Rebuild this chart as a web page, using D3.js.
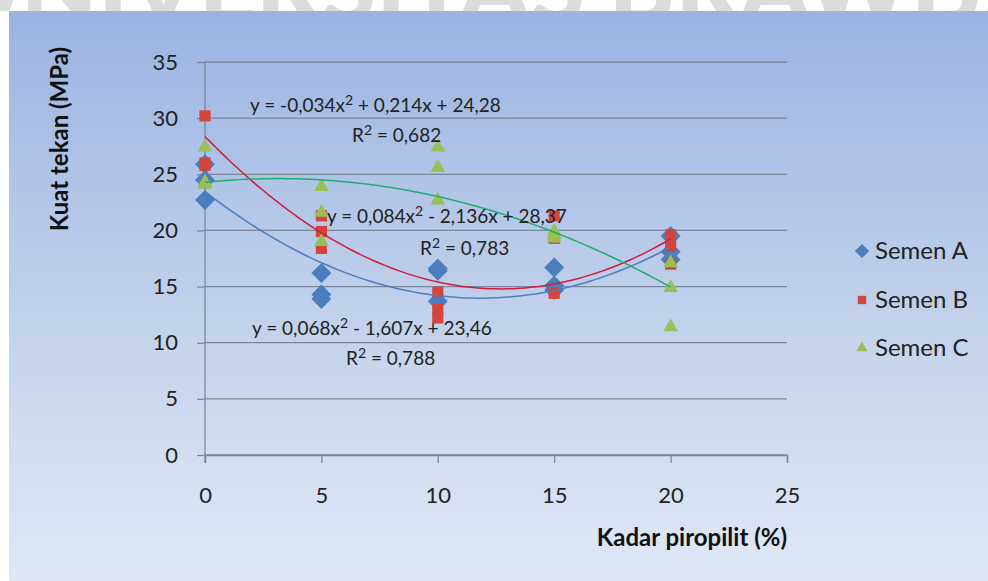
<!DOCTYPE html>
<html>
<head>
<meta charset="utf-8">
<title>Kuat tekan vs kadar piropilit</title>
<script src="https://d3js.org/d3.v7.min.js" charset="utf-8"></script>
<style>
  body { margin: 0; background: #fff; }
  svg { display: block; }
  .tick-label { font-family: Lato, "Open Sans", sans-serif; font-size: 22px; fill: #222; }
  .axis-title { font-family: Lato, "Open Sans", sans-serif; font-size: 24px; font-weight: bold; fill: #111; }
  .eq { font-family: Lato, "Open Sans", sans-serif; font-size: 19px; fill: #222; }
  .legend-text { font-family: Lato, "Open Sans", sans-serif; font-size: 24px; fill: #222; }
</style>
</head>
<body>
<div id="chart"></div>
<script>
// data
var kadar = [0, 5, 10, 15, 20];
var xTicks = [0, 5, 10, 15, 20, 25];
var yTicks = [0, 5, 10, 15, 20, 25, 30, 35];
var seriesNames = ["Semen A", "Semen B", "Semen C"];

// three test results for each kadar value
var semenA = [[25.9, 24.5, 22.7], [16.2, 14.3, 13.9], [16.6, 16.4, 13.7], [16.7, 15.1, 14.7], [19.5, 18.1, 17.4]];
var semenB = [[30.2, 26.0, 25.8], [21.3, 19.9, 18.4], [14.5, 13.0, 12.2], [21.3, 19.3, 14.4], [19.6, 18.6, 17.0]];
var semenC = [[27.4, 24.1, 24.3], [23.9, 21.6, 19.0], [27.4, 25.6, 22.7], [19.6, 19.3, 19.9], [17.1, 14.9, 11.4]];

// polynomial trendlines: a x^2 + b x + c
var trendA = [0.068, -1.607, 23.46];
var trendB = [0.084, -2.136, 28.37];
var trendC = [-0.034, 0.214, 24.28];
// equation text split around the superscript 2
var eqText = [["y = 0,068x", " - 1,607x + 23,46"], ["y = 0,084x", " - 2,136x + 28,37"], ["y = -0,034x", " + 0,214x + 24,28"]];
var r2Text = [["R", " = 0,788"], ["R", " = 0,783"], ["R", " = 0,682"]];

var W = 988, H = 581;
var svg = d3.select('#chart').append('svg').attr('width', W).attr('height', H);
var defs = svg.append('defs');

// watermark behind the chart, only its lower edge shows in the top strip
defs.append('clipPath').attr('id', 'topStrip').append('rect').attr('x', 0).attr('y', 0).attr('width', W).attr('height', 11);
svg.append('g').attr('clip-path', 'url(#topStrip)')
  .append('text').attr('x', 560).attr('y', 22).attr('text-anchor', 'middle')
  .style('font-family', 'Lato, sans-serif').style('font-weight', 900).style('font-size', '100px')
  .style('fill', '#dcdcdc').text("UNIVERSITAS BRAWIJAYA");

var grad = defs.append('linearGradient').attr('id', 'bg').attr('x1', 0).attr('y1', 0).attr('x2', 0).attr('y2', 1);
grad.append('stop').attr('offset', '0%').attr('stop-color', '#9ab4e2');
grad.append('stop').attr('offset', '55%').attr('stop-color', '#c3d2ec');
grad.append('stop').attr('offset', '100%').attr('stop-color', '#e0e8f5');

svg.append('rect').attr('x', 9).attr('y', 11).attr('width', W - 9).attr('height', H - 11).attr('fill', 'url(#bg)');

var x = d3.scaleLinear().domain([0, 25]).range([205, 787]);
var y = d3.scaleLinear().domain([0, 35]).range([455, 62]);

var gridColor = '#7c879b';

// horizontal gridlines
svg.append('g').selectAll('line').data(yTicks).enter().append('line')
  .attr('x1', x(0)).attr('x2', x(25))
  .attr('y1', d => y(d)).attr('y2', d => y(d))
  .attr('stroke', gridColor).attr('stroke-width', 1.3);

// axes
var yAxis = svg.append('g').attr('transform', `translate(${x(0)},0)`)
  .call(d3.axisLeft(y).tickValues(yTicks).tickSize(8).tickPadding(19).tickFormat(d3.format('d')));
var xAxis = svg.append('g').attr('transform', `translate(0,${y(0)})`)
  .call(d3.axisBottom(x).tickValues(xTicks).tickSize(8).tickPadding(24).tickFormat(d3.format('d')));
[yAxis, xAxis].forEach(function(a) {
  a.select('.domain').attr('stroke', gridColor).attr('stroke-width', 1.3);
  a.selectAll('.tick line').attr('stroke', gridColor).attr('stroke-width', 1.3);
  a.selectAll('.tick text').attr('class', 'tick-label').attr('fill', null);
});
yAxis.select('.domain').attr('d', `M0,${y(0) + 8}V${y(35)}`);

// axis titles
svg.append('text').attr('class', 'axis-title').attr('text-anchor', 'middle')
  .attr('transform', 'translate(68,139) rotate(-90)').text('Kuat tekan (MPa)');
svg.append('text').attr('class', 'axis-title').attr('text-anchor', 'end')
  .attr('x', 787).attr('y', 546).text('Kadar piropilit (%)');

var colors = ['#4a7ebe', '#d3453c', '#9bbf57'];
var trendColors = ['#4a7ebe', '#d01c3a', '#1fae6e'];
var symbols = [d3.symbolSquare, d3.symbolSquare, d3.symbolTriangle];
var rotations = [45, 0, 0];
var sizes = [200, 125, 95];

function flatten(series) {
  var out = [];
  series.forEach(function(vals, i) {
    vals.forEach(function(v) { out.push({ x: kadar[i], y: v }); });
  });
  return out;
}

var allSeries = [semenA, semenB, semenC];
allSeries.forEach(function(s, k) {
  svg.append('g').selectAll('path').data(flatten(s)).enter().append('path')
    .attr('d', d3.symbol().type(symbols[k]).size(sizes[k]))
    .attr('transform', d => `translate(${x(d.x)},${y(d.y)}) rotate(${rotations[k]})`)
    .attr('fill', colors[k]);
});

// trendlines
var trends = [trendA, trendB, trendC];
var xs = d3.range(0, 20.01, 0.25);
var line = d3.line().x(d => x(d[0])).y(d => y(d[1]));
trends.forEach(function(c, k) {
  var pts = xs.map(v => [v, c[0] * v * v + c[1] * v + c[2]]);
  svg.append('path').attr('d', line(pts)).attr('fill', 'none')
    .attr('stroke', trendColors[k]).attr('stroke-width', 1.5);
});

// equation labels
function supText(xp, yp, parts) {
  var t = svg.append('text').attr('class', 'eq').attr('x', xp).attr('y', yp);
  t.append('tspan').text(parts[0]);
  t.append('tspan').attr('dy', -7).style('font-size', '14px').text('2');
  t.append('tspan').attr('dy', 7).text(parts[1]);
}
var eqPos = [[252, 335, 346, 365], [327, 223, 420, 255], [250, 112, 352, 142]];
eqPos.forEach(function(p, k) {
  supText(p[0], p[1], eqText[k]);
  supText(p[2], p[3], r2Text[k]);
});

// legend
var legend = svg.append('g').attr('transform', 'translate(862,0)');
var legY = [251, 300, 348];
var legSizes = [100, 70, 55];
seriesNames.forEach(function(name, k) {
  legend.append('path').attr('d', d3.symbol().type(symbols[k]).size(legSizes[k]))
    .attr('transform', `translate(0,${legY[k]}) rotate(${rotations[k]})`).attr('fill', colors[k]);
  legend.append('text').attr('class', 'legend-text').attr('x', 13).attr('y', legY[k] + 8).text(name);
});
</script>
</body>
</html>
